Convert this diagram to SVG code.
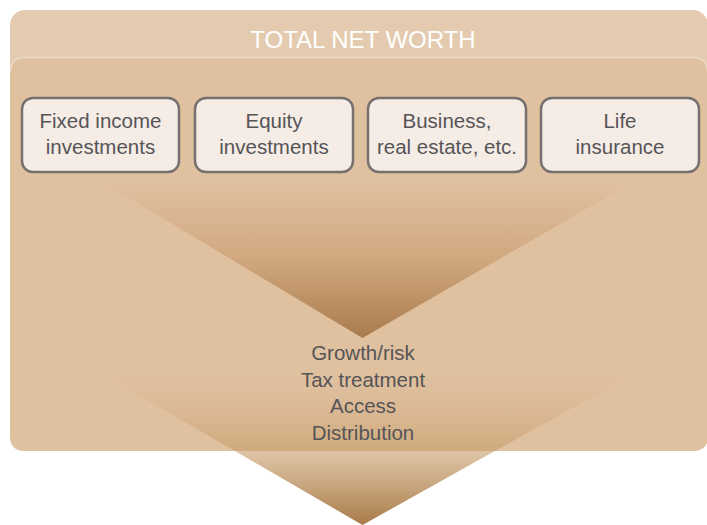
<svg xmlns="http://www.w3.org/2000/svg" width="707" height="525" viewBox="0 0 707 525">
  <defs>
    <linearGradient id="funnelTop" gradientUnits="userSpaceOnUse" x1="0" y1="183" x2="0" y2="338">
      <stop offset="0" stop-color="#dfc0a0"/>
      <stop offset="0.5" stop-color="#d1a77e"/>
      <stop offset="1" stop-color="#a97c4e"/>
    </linearGradient>
    <linearGradient id="funnelBottom" gradientUnits="userSpaceOnUse" x1="0" y1="375" x2="0" y2="525">
      <stop offset="0" stop-color="#d3aa80" stop-opacity="0"/>
      <stop offset="0.5" stop-color="#c69a66" stop-opacity="0.57"/>
      <stop offset="1" stop-color="#a77a48" stop-opacity="1"/>
    </linearGradient>
  </defs>
  <style>
    .band { fill: #e4cbb0; }
    .panel { fill: #dfc09f; }
    .panelEdge { fill: none; stroke: #eadbc9; stroke-width: 1.5; }
    .title { font-family: "Liberation Sans", Arial, sans-serif; font-size: 24px; fill: #ffffff; text-anchor: middle; }
    .box { fill: #f5ece6; stroke: #767170; stroke-width: 2.5; }
    .label { font-family: "Liberation Sans", Arial, sans-serif; font-size: 20.5px; fill: #555557; text-anchor: middle; }
  </style>

  <!-- background panels -->
  <g id="total-net-worth">
    <rect class="band" x="10" y="10" width="698" height="441" rx="15" ry="15"/>
    <path class="panel" d="M10 72 Q10 57 25 57 L693 57 Q708 57 708 72 L708 436 Q708 451 693 451 L25 451 Q10 451 10 436 Z"/>
    <path class="panelEdge" d="M10.5 72 Q10.5 57.5 25 57.5 L693 57.5 Q707.5 57.5 707.5 72"/>
    <text class="title" x="363" y="48">TOTAL NET WORTH</text>
  </g>

  <!-- funnels that gather the assets -->
  <g id="funnels">
    <polygon points="104,183 631,183 362.5,338" fill="url(#funnelTop)"/>
    <polygon points="104,375 631,375 362.5,525" fill="url(#funnelBottom)"/>
  </g>

  <!-- asset boxes -->
  <g id="fixed-income">
    <rect class="box" x="22" y="98" width="157" height="74" rx="11" ry="11"/>
    <text class="label" x="100.5" y="128">Fixed income</text>
    <text class="label" x="100.5" y="154">investments</text>
  </g>
  <g id="equity">
    <rect class="box" x="195" y="98" width="158" height="74" rx="11" ry="11"/>
    <text class="label" x="274" y="128">Equity</text>
    <text class="label" x="274" y="154">investments</text>
  </g>
  <g id="business">
    <rect class="box" x="368" y="98" width="158" height="74" rx="11" ry="11"/>
    <text class="label" x="447" y="128">Business,</text>
    <text class="label" x="447" y="154">real estate, etc.</text>
  </g>
  <g id="life-insurance">
    <rect class="box" x="541" y="98" width="158" height="74" rx="11" ry="11"/>
    <text class="label" x="620" y="128">Life</text>
    <text class="label" x="620" y="154">insurance</text>
  </g>

  <!-- considerations -->
  <g id="considerations">
    <text class="label" x="363" y="360">Growth/risk</text>
    <text class="label" x="363" y="387">Tax treatment</text>
    <text class="label" x="363" y="413">Access</text>
    <text class="label" x="363" y="440">Distribution</text>
  </g>
</svg>
